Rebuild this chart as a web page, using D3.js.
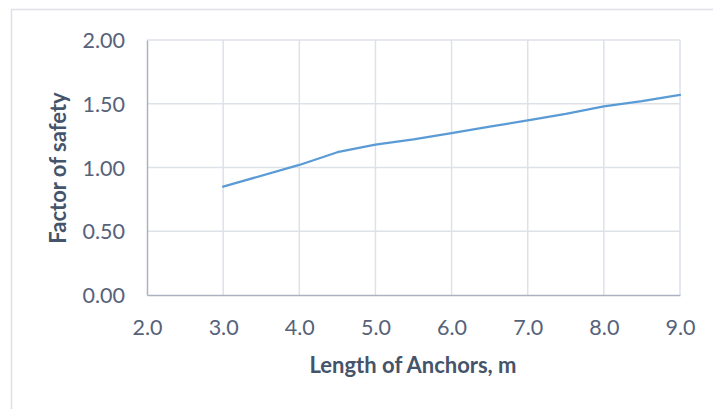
<!DOCTYPE html>
<html>
<head>
<meta charset="utf-8">
<script src="https://cdn.jsdelivr.net/npm/d3@7"></script>
<style>
  html, body { margin: 0; padding: 0; background: #fff; }
  svg { display: block; }
</style>
</head>
<body>
<svg id="chart" width="713" height="409"></svg>
<script>
// Anchor length (m) and the resulting factor of safety
const anchorLength = [3.0, 4.0, 4.5, 5.0, 5.5, 6.0, 6.5, 7.0, 7.5, 8.0, 8.5, 9.0];
const safetyFactor = [0.85, 1.02, 1.12, 1.18, 1.22, 1.27, 1.32, 1.37, 1.42, 1.48, 1.52, 1.57];
const xTicks = [2, 3, 4, 5, 6, 7, 8, 9];
const yTicks = [0, 0.5, 1.0, 1.5, 2.0];
const xTitle = "Length of Anchors, m";
const yTitle = "Factor of safety";

const svg = d3.select("#chart");
const plot = { left: 147, right: 680, top: 40, bottom: 295 };

const x = d3.scaleLinear().domain([2, 9]).range([plot.left, plot.right]);
const y = d3.scaleLinear().domain([0, 2]).range([plot.bottom, plot.top]);

const font = "Lato, 'Open Sans', sans-serif";
const tickColor = "#56627a";
const titleColor = "#44546a";
const gridColor = "#dde1e8";

// chart frame
svg.append("path")
  .attr("d", "M11.5,409 V9.5 H713")
  .attr("fill", "none")
  .attr("stroke", "#dde0e5")
  .attr("stroke-width", 1.5);

// gridlines
svg.append("g").selectAll("line").data(yTicks.filter(d => d > 0)).join("line")
  .attr("x1", plot.left).attr("x2", plot.right)
  .attr("y1", d => y(d)).attr("y2", d => y(d))
  .attr("stroke", gridColor).attr("stroke-width", 1.5);
svg.append("g").selectAll("line").data(xTicks.filter(d => d > 2)).join("line")
  .attr("x1", d => x(d)).attr("x2", d => x(d))
  .attr("y1", plot.top).attr("y2", plot.bottom)
  .attr("stroke", gridColor).attr("stroke-width", 1.5);

// axes
const xAxis = svg.append("g")
  .attr("transform", `translate(0,${plot.bottom})`)
  .call(d3.axisBottom(x).tickValues(xTicks).tickSize(0).tickPadding(0).tickFormat(d3.format(".1f")));
const yAxis = svg.append("g")
  .attr("transform", `translate(${plot.left},0)`)
  .call(d3.axisLeft(y).tickValues(yTicks).tickSize(0).tickPadding(0).tickFormat(d3.format(".2f")));

[xAxis, yAxis].forEach(g => {
  g.select(".domain").attr("stroke", "#aab2c0").attr("stroke-width", 1.5);
  g.selectAll("text")
    .attr("fill", tickColor)
    .style("font-family", font)
    .style("font-size", "21.5px");
});
xAxis.selectAll("text").attr("dy", null).attr("y", 40);
yAxis.selectAll("text").attr("dy", "0.35em").attr("x", -22);

// series line
svg.append("path")
  .datum(anchorLength.map((d, i) => [d, safetyFactor[i]]))
  .attr("fill", "none")
  .attr("stroke", "#5b9bd5")
  .attr("stroke-width", 2.25)
  .attr("stroke-linejoin", "round")
  .attr("stroke-linecap", "round")
  .attr("d", d3.line().x(d => x(d[0])).y(d => y(d[1])));

// axis titles
svg.append("text")
  .attr("x", 413)
  .attr("y", 373)
  .attr("text-anchor", "middle")
  .attr("fill", titleColor)
  .style("font-family", font)
  .style("font-weight", "bold")
  .style("font-size", "22px")
  .text(xTitle);

svg.append("text")
  .attr("transform", `translate(66,168) rotate(-90)`)
  .attr("text-anchor", "middle")
  .attr("fill", titleColor)
  .style("font-family", font)
  .style("font-weight", "bold")
  .style("font-size", "22px")
  .text(yTitle);
</script>
</body>
</html>
